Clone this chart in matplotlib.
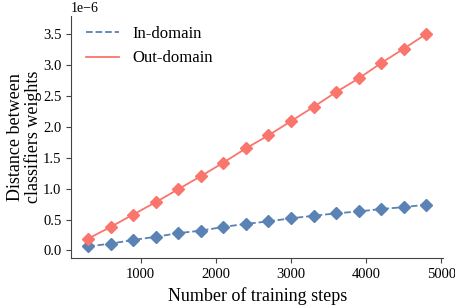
import numpy as np
import matplotlib
matplotlib.use("Agg")
import matplotlib.pyplot as plt

plt.rcParams['font.family'] = ['Liberation Serif', 'DejaVu Serif']
plt.rcParams['mathtext.fontset'] = 'stix'

steps = [300, 600, 900, 1200, 1500, 1800, 2100, 2400, 2700, 3000,
         3300, 3600, 3900, 4200, 4500, 4800]
in_domain = [0.065, 0.11, 0.17, 0.22, 0.28, 0.32, 0.38, 0.43, 0.47, 0.52,
             0.56, 0.60, 0.63, 0.67, 0.70, 0.74]
in_err = [0.01, 0.01, 0.01, 0.01, 0.01, 0.01, 0.01, 0.01, 0.01, 0.01,
          0.01, 0.01, 0.01, 0.01, 0.015, 0.015]
out_domain = [0.19, 0.38, 0.58, 0.78, 0.99, 1.20, 1.42, 1.65, 1.86, 2.09,
              2.32, 2.56, 2.78, 3.03, 3.26, 3.50]
out_err = [0.02, 0.02, 0.03, 0.03, 0.04, 0.03, 0.03, 0.03, 0.03, 0.04,
           0.04, 0.04, 0.04, 0.05, 0.06, 0.07]

blue = '#5a82b4'
red = '#fa756b'

x = np.array(steps)
yin = np.array(in_domain) * 1e-6
yout = np.array(out_domain) * 1e-6

fig = plt.figure(figsize=(4.56, 3.07), dpi=100)
ax = fig.add_axes([0.156, 0.16, 0.816, 0.788])

ax.plot(x, yin, ls='--', color=blue, lw=1.3, label='In-domain')
ax.errorbar(x, yin, yerr=np.array(in_err) * 1e-6, fmt='D', color=blue,
            ms=6.5, elinewidth=1.2, capsize=0)
ax.plot(x, yout, ls='-', color=red, lw=1.3, label='Out-domain')
ax.errorbar(x, yout, yerr=np.array(out_err) * 1e-6, fmt='D', color=red,
            ms=6.5, elinewidth=1.2, capsize=0)

ax.set_ylim(-0.12e-6, 3.79e-6)
ax.set_xticks([1000, 2000, 3000, 4000, 5000])
ax.set_yticks(np.arange(0, 3.6, 0.5) * 1e-6)
ax.tick_params(labelsize=10.5, color='#444444')
for s in ['top', 'right']:
    ax.spines[s].set_visible(False)
for s in ['left', 'bottom']:
    ax.spines[s].set_color('#444444')
ax.yaxis.get_offset_text().set_fontsize(10)

ax.set_xlabel('Number of training steps', fontsize=13, labelpad=5)
ax.set_ylabel('Distance between\nclassifiers weights', fontsize=13,
              linespacing=1.0, labelpad=1)
ax.legend(loc='upper left', frameon=False, fontsize=12, handlelength=2.0,
          bbox_to_anchor=(0.0, 1.02))

fig.savefig('out.png', dpi=100)
